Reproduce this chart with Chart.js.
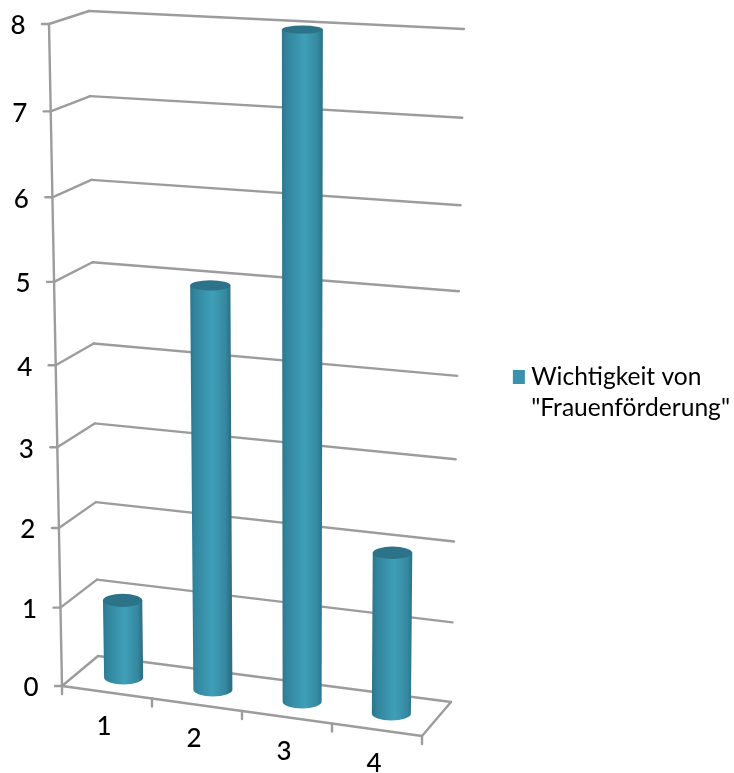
<!DOCTYPE html>
<html>
<head>
<meta charset="utf-8">
<script src="https://cdn.jsdelivr.net/npm/chart.js@4"></script>
<style>
  html, body { margin: 0; background: #fff; }
  canvas { display: block; }
</style>
</head>
<body>
<canvas id="myChart" width="734" height="773"></canvas>
<script>
const categories = ['1', '2', '3', '4']
const importance = [1, 5, 8, 2]
const seriesName = ['Wichtigkeit von', '"Frauenförderung"']

const textFont = 'Lato'
const gridColor = '#9c9c9c'
const barColor = '#3a93ad'

// corners of the 3D box as seen on screen: [floor point, top point]
const frontLeft = [[62, 686], [49, 24]]
const backLeft = [[98, 656], [89, 11]]
const backRight = [[451, 702], [464, 29]]
const frontRight = [422, 736]
// plane the cylinders stand on, halfway between front and back
const barLeft = [[79, 671.5], [68, 17.3]]
const barRight = [[436, 719.5], [443, 37]]

function lerp(a, b, t) {
    return [a[0] + (b[0] - a[0]) * t, a[1] + (b[1] - a[1]) * t]
}

// height fraction along a vertical edge, squeezed a bit towards the floor
function onEdge(edge, t, w) {
    return lerp(edge[0], edge[1], t * (1 + w) / (1 + w * t))
}

function line(ctx, a, b) {
    ctx.beginPath()
    ctx.moveTo(a[0], a[1])
    ctx.lineTo(b[0], b[1])
    ctx.stroke()
}

function drawBox(chart) {
    const ctx = chart.ctx
    const y = chart.scales.y
    const x = chart.scales.x
    const area = chart.chartArea
    ctx.save()
    ctx.strokeStyle = gridColor
    ctx.lineWidth = 2.4
    ctx.lineCap = 'round'
    ctx.fillStyle = '#000'
    ctx.font = '500 26px ' + textFont
    ctx.textAlign = 'center'
    ctx.textBaseline = 'middle'

    y.ticks.forEach((tick) => {
        const t = (area.bottom - y.getPixelForValue(tick.value)) / area.height
        const a = onEdge(frontLeft, t, -0.06)
        const b = onEdge(backLeft, t, -0.06)
        const c = onEdge(backRight, t, -0.06)
        line(ctx, a, b)
        line(ctx, b, c)
        line(ctx, a, [a[0] - 7, a[1]])
        ctx.fillText(tick.label, a[0] - 31, a[1] + 2)
    })

    line(ctx, frontLeft[0], frontLeft[1])
    line(ctx, frontLeft[0], frontRight)
    line(ctx, frontRight, backRight[0])

    const step = area.width / x.ticks.length
    for (let i = 0; i <= x.ticks.length; i++) {
        const p = lerp(frontLeft[0], frontRight, i / x.ticks.length)
        line(ctx, p, [p[0], p[1] + 8])
    }
    x.ticks.forEach((tick, i) => {
        const t = (x.getPixelForTick(i) - area.left) / (step * x.ticks.length)
        const p = lerp(frontLeft[0], frontRight, t)
        ctx.fillText(tick.label, p[0] - 3, p[1] + 34)
    })
    ctx.restore()
}

function drawCylinder(ctx, bar, area) {
    const u = (bar.x - area.left) / area.width
    const t = (area.bottom - bar.y) / area.height
    const bottom = lerp(barLeft[0], barRight[0], u)
    const top = lerp(onEdge(barLeft, t, -0.07), onEdge(barRight, t, -0.07), u)
    const span = barRight[0][0] - barLeft[0][0]
    const rBottom = bar.width / 2 / area.width * span
    const rTop = rBottom * (1 + 0.05 * t)
    const ryBottom = 7
    const ryTop = 7 - 3 * t

    const shade = ctx.createLinearGradient(top[0] - rTop, 0, top[0] + rTop, 0)
    shade.addColorStop(0, '#2c778e')
    shade.addColorStop(0.12, '#32859d')
    shade.addColorStop(0.55, '#3f9fb8')
    shade.addColorStop(0.88, '#35889f')
    shade.addColorStop(1, '#2a7086')

    ctx.beginPath()
    ctx.moveTo(top[0] - rTop, top[1])
    ctx.lineTo(top[0] + rTop, top[1])
    ctx.lineTo(bottom[0] + rBottom, bottom[1])
    ctx.ellipse(bottom[0], bottom[1], rBottom, ryBottom, 0, 0, Math.PI)
    ctx.closePath()
    ctx.fillStyle = shade
    ctx.fill()

    ctx.beginPath()
    ctx.ellipse(top[0], top[1], rTop, ryTop, 0, 0, Math.PI * 2)
    ctx.fillStyle = '#2c7389'
    ctx.fill()
}

const cylinderPlugin = {
    id: 'cylinders',
    afterLayout(chart) {
        // nudge the legend towards the right edge
        chart.legend.left += 6
        chart.legend.right += 6
        chart.legend.top += 2
        chart.legend.bottom += 2
    },
    beforeDatasetsDraw(chart) {
        drawBox(chart)
    },
    beforeDatasetDraw(chart, args) {
        args.meta.data.forEach((bar) => drawCylinder(chart.ctx, bar, chart.chartArea))
        return false
    }
}

new Chart(document.getElementById('myChart'), {
    type: 'bar',
    data: {
        labels: categories,
        datasets: [{
            label: seriesName,
            data: importance,
            backgroundColor: barColor,
            borderWidth: 0,
            barPercentage: 0.4375,
            categoryPercentage: 1
        }]
    },
    options: {
        responsive: false,
        animation: false,
        layout: { padding: { top: 14 } },
        scales: {
            x: { display: false },
            y: { display: false, min: 0, max: 8, ticks: { stepSize: 1 } }
        },
        plugins: {
            tooltip: { enabled: false },
            legend: {
                position: 'right',
                labels: {
                    color: '#000',
                    // narrow box plus a wide outline keeps the swatch close to its text
                    boxWidth: 2,
                    boxHeight: 2,
                    padding: 4,
                    font: { family: textFont, size: 24.6, lineHeight: 1.25 },
                    generateLabels(chart) {
                        return [{
                            text: seriesName,
                            fillStyle: barColor,
                            lineWidth: 12,
                            strokeStyle: barColor,
                            datasetIndex: 0
                        }]
                    }
                }
            }
        }
    },
    plugins: [cylinderPlugin]
})
</script>
</body>
</html>
